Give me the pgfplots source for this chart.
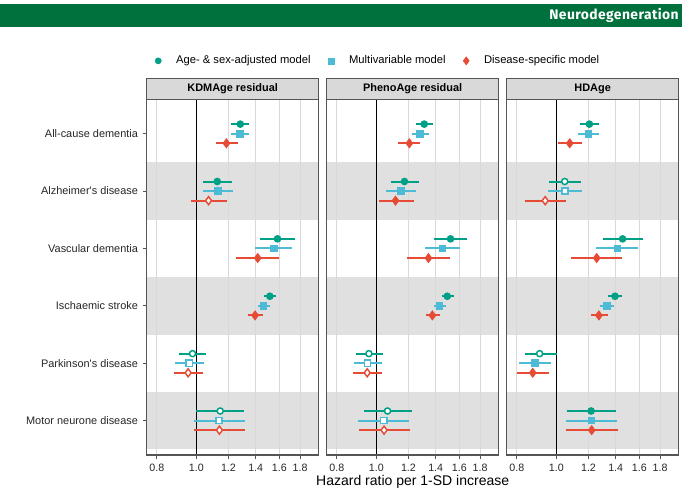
\documentclass[border=0pt]{standalone}
\usepackage{fontspec}
\setmainfont{Liberation Sans}
\newfontfamily\bannerfont[LetterSpace=3]{Fira Sans}
\usepackage{pgfplots}
\pgfplotsset{compat=1.18}
\usepackage{pgfplotstable}

\definecolor{npgred}{HTML}{E64B35}
\definecolor{npgblue}{HTML}{4DBBD5}
\definecolor{npggreen}{HTML}{00A087}
\definecolor{bannergreen}{HTML}{00703C}
\definecolor{bandgrey}{HTML}{E0E0E0}
\definecolor{framegrey}{HTML}{555555}
\definecolor{stripgrey}{HTML}{D9D9D9}

% Hazard ratios with 95% CI; a = age- & sex-adjusted, m = multivariable,
% d = disease-specific; class f = CI excludes 1, o = CI includes 1
\pgfplotstableread{
y  a     alo   ahi   ac  m     mlo   mhi   mc  d     dlo   dhi   dc
1  1.283 1.220 1.350 f   1.280 1.215 1.350 f   1.186 1.115 1.264 f
2  1.126 1.039 1.224 f   1.130 1.037 1.233 f   1.072 0.970 1.188 o
3  1.584 1.437 1.752 f   1.551 1.395 1.719 f   1.416 1.250 1.602 f
4  1.517 1.470 1.571 f   1.464 1.416 1.517 f   1.395 1.337 1.456 f
5  0.979 0.907 1.057 o   0.961 0.887 1.045 o   0.955 0.882 1.041 o
6  1.145 0.998 1.310 o   1.138 0.988 1.317 o   1.140 0.988 1.317 o
}\kdmage

\pgfplotstableread{
y  a     alo   ahi   ac  m     mlo   mhi   mc  d     dlo   dhi   dc
1  1.312 1.254 1.377 f   1.283 1.222 1.347 f   1.206 1.134 1.283 f
2  1.173 1.084 1.276 f   1.151 1.058 1.252 f   1.115 1.014 1.236 f
3  1.523 1.388 1.676 f   1.456 1.319 1.611 f   1.344 1.190 1.515 f
4  1.495 1.451 1.549 f   1.432 1.385 1.481 f   1.374 1.322 1.432 f
5  0.959 0.890 1.039 o   0.952 0.882 1.033 o   0.950 0.874 1.033 o
6  1.066 0.932 1.224 o   1.043 0.903 1.204 o   1.045 0.905 1.208 o
}\phenoage

\pgfplotstableread{
y  a     alo   ahi   ac  m     mlo   mhi   mc  d     dlo   dhi   dc
1  1.206 1.143 1.273 f   1.200 1.132 1.271 f   1.079 1.007 1.155 f
2  1.049 0.961 1.151 o   1.051 0.955 1.157 o   0.939 0.838 1.057 o
3  1.456 1.304 1.631 f   1.413 1.254 1.590 f   1.257 1.089 1.451 f
4  1.395 1.344 1.448 f   1.331 1.280 1.384 f   1.273 1.218 1.337 f
5  0.910 0.838 1.002 o   0.885 0.811 0.968 f   0.875 0.799 0.959 f
6  1.218 1.060 1.400 f   1.220 1.054 1.413 f   1.222 1.056 1.416 f
}\hdage

% the x axis is drawn on the natural-log scale of the hazard ratio
\pgfplotsset{
  hrpanel/.style={
    scale only axis, width=129pt, height=266.8pt, anchor=south west,
    xmin=-0.2810, xmax=0.6931,
    ymin=0.4, ymax=6.6, y dir=reverse,
    xtick={-0.22314,0,0.18232,0.33647,0.47000,0.58779},
    xticklabels={0.8,1.0,1.2,1.4,1.6,1.8},
    ytick={1,2,3,4,5,6},
    xtick pos=bottom, ytick pos=left,
    tick align=outside, major tick length=3pt,
    axis on top,
    axis line style={color=framegrey, line width=1pt},
    tick style={color=framegrey, line width=0.6pt},
    tick label style={font=\fontsize{8}{9}\selectfont, text=black!85},
  },
  hrmodel/.style 2 args={
    scatter, only marks, scatter src=explicit symbolic,
    scatter/classes={
      f={mark=#2, draw=#1, fill=#1},
      o={mark=#2, draw=#1, fill=white}},
    mark options={line width=1.1pt},
    error bars/x dir=both,
    error bars/x explicit,
    error bars/error mark=none,
    error bars/error bar style={line width=1.5pt, color=#1},
  },
  hrage/.style={mark size=2.3pt, hrmodel={npggreen}{*}},
  hrmv/.style={mark size=2.3pt, hrmodel={npgblue}{square*}},
  hrds/.style={mark size=3pt, hrmodel={npgred}{diamond*}},
}

% shaded rows, reference lines and the three model series for one table
\newcommand\panelbody[1]{%
  \fill[bandgrey] (axis cs:-0.5,1.5) rectangle (axis cs:0.9,2.5);
  \fill[bandgrey] (axis cs:-0.5,3.5) rectangle (axis cs:0.9,4.5);
  \fill[bandgrey] (axis cs:-0.5,5.5) rectangle (axis cs:0.9,6.5);
  \pgfplotsinvokeforeach{-0.22314,0.18232,0.33647,0.47000,0.58779}{%
    \draw[black!15, line width=0.6pt] (axis cs:##1,0.3) -- (axis cs:##1,6.7);}
  \draw[black, line width=0.8pt] (axis cs:0,0.3) -- (axis cs:0,6.7);
  \addplot[hrmv] table[x expr=ln(\thisrow{m}), y=y,
    x error minus expr=ln(\thisrow{m})-ln(\thisrow{mlo}),
    x error plus expr=ln(\thisrow{mhi})-ln(\thisrow{m}), meta=mc] {#1};
  \addplot[hrage] table[x expr=ln(\thisrow{a}), y expr=\thisrow{y}-0.167,
    x error minus expr=ln(\thisrow{a})-ln(\thisrow{alo}),
    x error plus expr=ln(\thisrow{ahi})-ln(\thisrow{a}), meta=ac] {#1};
  \addplot[hrds] table[x expr=ln(\thisrow{d}), y expr=\thisrow{y}+0.167,
    x error minus expr=ln(\thisrow{d})-ln(\thisrow{dlo}),
    x error plus expr=ln(\thisrow{dhi})-ln(\thisrow{d}), meta=dc] {#1};
}

\newcommand\panelstrip[2]{%
  \draw[framegrey, line width=1pt, fill=stripgrey]
    (#1.north west) rectangle ([yshift=15.75pt]#1.north east);
  \node[font=\bfseries\fontsize{8.2}{10}\selectfont]
    at ([yshift=7.9pt]#1.north) {#2};
}

\begin{document}
\begin{tikzpicture}
\path (0,0) rectangle (511.5pt,-372pt);

% section banner
\fill[bannergreen] (0,-3pt) rectangle (511.5pt,-20pt);
\node[anchor=east, text=white, inner sep=0pt]
  at (509.2pt,-11.6pt) {\bannerfont\bfseries\fontsize{10.4}{12}\selectfont Neurodegeneration};

\begin{axis}[hrpanel, name=p1, at={(110pt,-341.25pt)},
    yticklabels={All-cause dementia, Alzheimer\textquotesingle s disease,
      Vascular dementia, Ischaemic stroke, Parkinson\textquotesingle s disease,
      Motor neurone disease},
    yticklabel style={font=\fontsize{8.2}{9}\selectfont},
    legend columns=3,
    legend image code/.code={%
      \path[draw=none, fill=none] (0pt,0pt) -- (11.4pt,0pt);
      \draw[#1] plot coordinates {(0pt,0pt)};},
    legend style={at={(rel axis cs:0.048,1.108)}, anchor=west, draw=none,
      fill=none, inner sep=0pt,
      font=\fontsize{8.4}{9}\selectfont,
      /tikz/every even column/.append style={column sep=11.2pt}},
  ]
  \addlegendimage{only marks, mark=*, mark size=2.3pt, color=npggreen}
  \addlegendimage{only marks, mark=square*, mark size=2.3pt, color=npgblue}
  \addlegendimage{only marks, mark=diamond*, mark size=3pt, color=npgred}
  \legend{Age- \& sex-adjusted model, Multivariable model, Disease-specific model}
  \panelbody{\kdmage}
\end{axis}
\panelstrip{p1}{KDMAge residual}

\begin{axis}[hrpanel, name=p2, at={(245pt,-341.25pt)}, yticklabels={},
    ytick style={draw=none},
    xlabel={Hazard ratio per 1-SD increase},
    xlabel style={at={(rel axis cs:0.5,0)}, anchor=center, yshift=-20.3pt,
      font=\fontsize{10.5}{12}\selectfont},
  ]
  \panelbody{\phenoage}
\end{axis}
\panelstrip{p2}{PhenoAge residual}

\begin{axis}[hrpanel, name=p3, at={(380pt,-341.25pt)}, yticklabels={},
    ytick style={draw=none}]
  \panelbody{\hdage}
\end{axis}
\panelstrip{p3}{HDAge}
\end{tikzpicture}
\end{document}
